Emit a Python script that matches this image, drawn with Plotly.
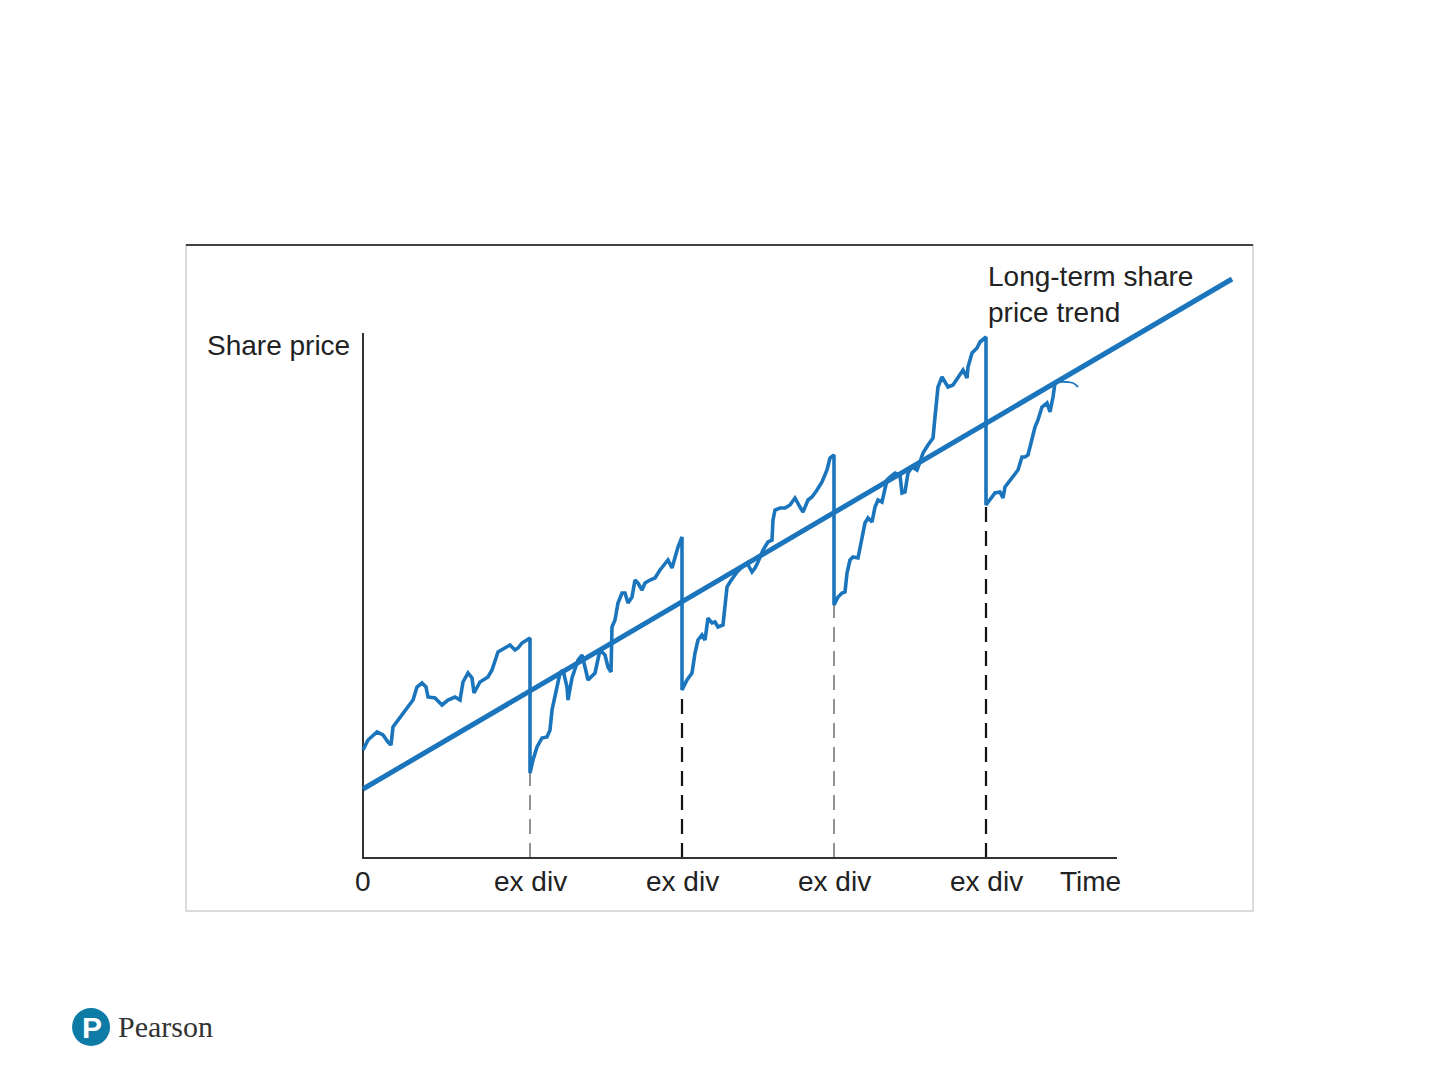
import plotly.graph_objects as go

# share price path, one list per dividend period (time, price in chart units)
period1_t = [0, 5, 14, 20, 25, 28, 30, 39, 45, 50, 54, 59, 63, 65, 72, 79, 85, 92, 97, 100,
             105, 109, 111, 117, 125, 129, 135, 139, 144, 147, 152, 155, 159, 164, 167]
period1_p = [108, 118, 126, 123, 116, 113, 131, 143, 151, 158, 171, 175, 171, 161, 160, 153, 158, 161, 158, 176,
             185, 180, 165, 176, 181, 188, 206, 208, 211, 213, 208, 210, 215, 218, 220]

period2_t = [167, 170, 174, 179, 184, 187, 189, 194, 197, 200, 204, 205, 209, 215, 219, 222, 225, 232, 237, 242,
             245, 248, 249, 252, 255, 259, 262, 265, 269, 272, 275, 279, 282, 287, 292, 297, 302, 305, 309, 312,
             315, 319]
period2_p = [85, 98, 111, 120, 121, 128, 148, 171, 185, 188, 171, 158, 180, 198, 203, 191, 178, 185, 208, 203,
             191, 186, 231, 238, 255, 265, 265, 255, 261, 278, 275, 268, 275, 278, 280, 288, 295, 298, 290, 300,
             311, 321]

period3_t = [319, 324, 329, 332, 335, 339, 342, 345, 349, 352, 355, 360, 364, 367, 370, 374, 379, 384, 389, 392,
             395, 400, 405, 409, 410, 412, 417, 422, 427, 432, 437, 440, 445, 449, 454, 459, 464, 467, 471]
period3_p = [168, 178, 185, 205, 218, 223, 218, 240, 235, 236, 231, 233, 271, 276, 281, 286, 291, 295, 286, 290,
             296, 308, 316, 318, 338, 348, 350, 350, 353, 360, 351, 346, 358, 361, 368, 376, 388, 400, 403]

period4_t = [471, 475, 479, 482, 484, 487, 490, 495, 499, 502, 505, 509, 512, 515, 519, 522, 524, 527, 532, 537,
             539, 542, 545, 549, 554, 557, 560, 565, 570, 572, 575, 579, 582, 585, 590, 595, 600, 604, 605, 609,
             614, 617, 623]
period4_p = [253, 261, 265, 266, 285, 298, 301, 300, 318, 335, 340, 336, 351, 358, 356, 368, 378, 381, 385, 383,
             365, 366, 385, 391, 388, 396, 405, 413, 420, 441, 471, 481, 476, 471, 473, 480, 488, 480, 491, 505,
             510, 516, 521]

period5_t = [623, 627, 632, 637, 640, 642, 647, 650, 655, 659, 662, 665, 669, 672, 675, 679, 684, 687, 690, 692]
period5_p = [353, 358, 365, 366, 360, 371, 378, 381, 388, 401, 401, 403, 418, 431, 438, 451, 455, 446, 461, 475]

# faint curl at the end of the price path
tail_t = [692, 697, 704, 710, 715]
tail_p = [475, 476, 476, 475, 471]

trend_t = [0, 869]
trend_p = [69, 579]

ex_div_t = [167, 319, 471, 623]
ex_div_low = [85, 168, 253, 353]

axis_end_t = 754
axis_end_p = 525

BLUE = "#1B75BC"
FONT = "Liberation Sans"

price_t = period1_t + period2_t + period3_t + period4_t + period5_t
price_p = period1_p + period2_p + period3_p + period4_p + period5_p

fig = go.Figure()

# dashed ex-dividend markers
for i, (t, low) in enumerate(zip(ex_div_t, ex_div_low)):
    dark = i % 2 == 1
    fig.add_trace(go.Scatter(
        x=[t, t], y=[0, low], mode="lines",
        line=dict(color="#111111" if dark else "#666666", width=2.2 if dark else 1.4,
                  dash="15px,9px"),
        hoverinfo="skip", showlegend=False))

# axes
fig.add_trace(go.Scatter(x=[0, 0, axis_end_t], y=[axis_end_p, 0, 0], mode="lines",
                         line=dict(color="#333333", width=2), hoverinfo="skip", showlegend=False))

fig.add_trace(go.Scatter(x=trend_t, y=trend_p, mode="lines",
                         line=dict(color=BLUE, width=5), showlegend=False))
fig.add_trace(go.Scatter(x=price_t, y=price_p, mode="lines",
                         line=dict(color=BLUE, width=3.6), showlegend=False))
fig.add_trace(go.Scatter(x=tail_t, y=tail_p, mode="lines", line_shape="spline",
                         line=dict(color=BLUE, width=1.8), showlegend=False))

txt = dict(family=FONT, size=28, color="#222222")
labels = [(0, "0")] + [(t, "ex div") for t in ex_div_t] + [(727, "Time")]
for t, s in labels:
    fig.add_annotation(x=t, y=-23, text=s, showarrow=False, font=txt,
                       xanchor="center", yanchor="middle")

fig.add_annotation(x=-11, y=513, text="Share price", showarrow=False, font=txt,
                   xanchor="right", yanchor="middle")
fig.add_annotation(x=623, y=564, text="Long-term share<br>price trend", showarrow=False,
                   font=txt, xanchor="left", yanchor="middle", align="left")

# frame around the figure
fig.add_shape(type="rect", xref="paper", yref="paper", x0=0, x1=1, y0=0, y1=1,
              line=dict(color="#cfcfcf", width=1.5))
fig.add_shape(type="line", xref="paper", yref="paper", x0=0, x1=1, y0=1, y1=1,
              line=dict(color="#111111", width=1.5))

# Pearson logo
fig.add_shape(type="circle", xref="paper", yref="paper",
              x0=-0.1068, x1=-0.0712, y0=-0.2027, y1=-0.1456,
              fillcolor="#0E7AA6", line=dict(width=0))
fig.add_annotation(xref="paper", yref="paper", x=-0.0885, y=-0.1745, text="<b>P</b>",
                   showarrow=False, font=dict(family=FONT, size=30, color="white"),
                   xanchor="center", yanchor="middle")
fig.add_annotation(xref="paper", yref="paper", x=-0.0655, y=-0.174, text="Pearson",
                   showarrow=False, font=dict(family="Liberation Serif", size=30, color="#333333"),
                   xanchor="left", yanchor="middle")

# page body adds 8px, so the margins are shifted to compensate
fig.update_layout(
    width=1440, height=1080,
    margin=dict(l=178, r=195, t=237, b=177),
    paper_bgcolor="white", plot_bgcolor="white",
    xaxis=dict(range=[-177, 890], visible=False, fixedrange=True),
    yaxis=dict(range=[-53, 613], visible=False, fixedrange=True),
    showlegend=False,
)

fig.write_html("out.html")
